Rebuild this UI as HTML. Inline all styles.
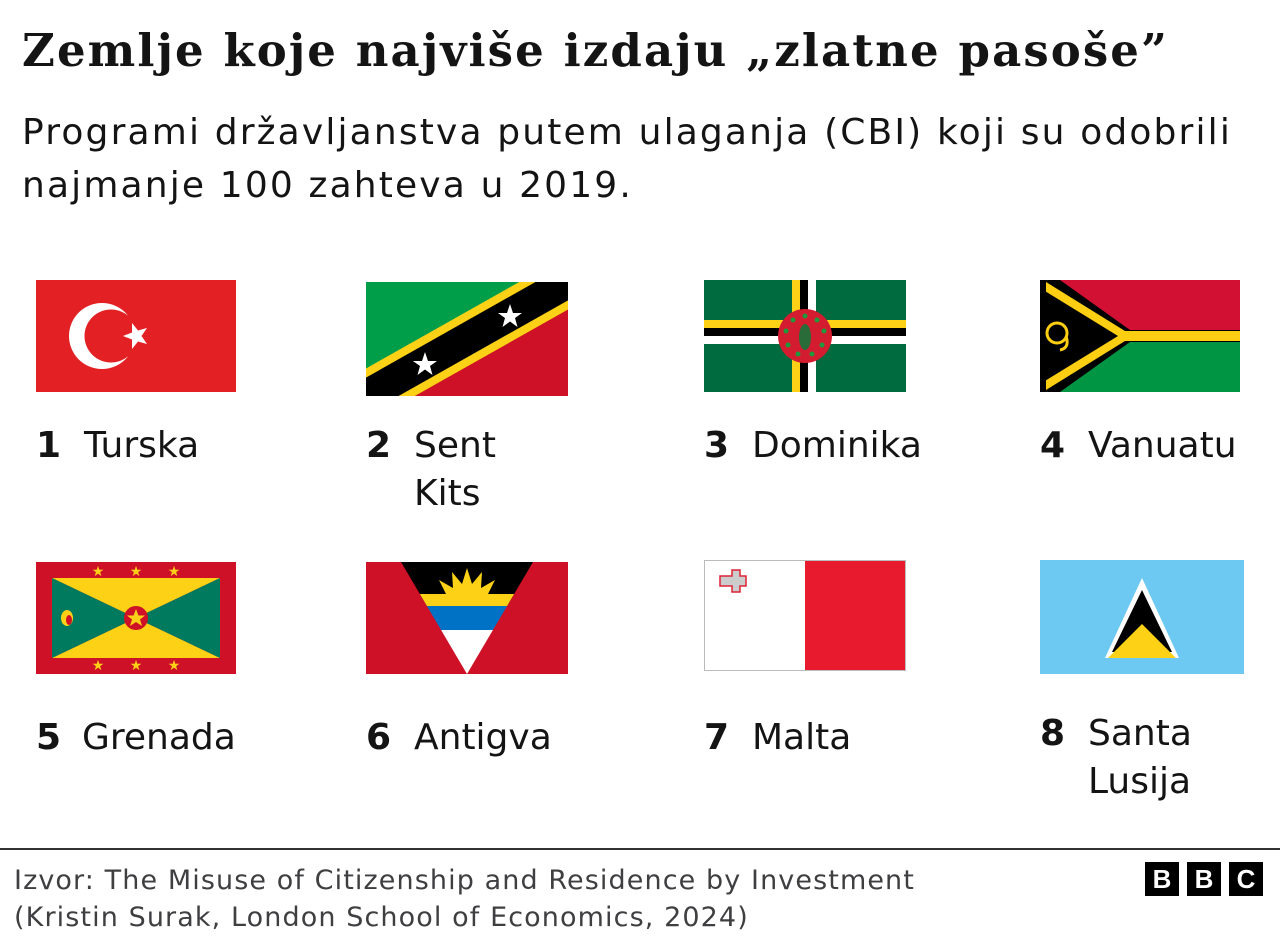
<!DOCTYPE html>
<html><head><meta charset="utf-8"><style>
body{margin:0;width:1280px;height:952px;background:#fff;position:relative;overflow:hidden;font-family:"DejaVu Sans","Liberation Sans",sans-serif;color:#141414}
.a{position:absolute}
h1{position:absolute;left:22px;top:24px;margin:0;font:bold 45px "DejaVu Serif","Liberation Serif",serif;letter-spacing:2.1px;white-space:nowrap}
.sub{left:22px;top:106px;font-size:36px;line-height:53px;letter-spacing:2.15px;white-space:nowrap}
.lab{font-size:36px;line-height:48px;display:flex}
.lab b{width:48px;flex:none}
.foot{left:14px;top:862px;font-size:27px;line-height:37px;color:#3f3f42;letter-spacing:1.1px;white-space:nowrap}
.bbc{top:862px;width:34px;height:34px;background:#000;color:#fff;font:bold 26px "Liberation Sans",sans-serif;text-align:center;line-height:34px}
</style></head><body>
<h1>Zemlje koje najviše izdaju „zlatne pasoše”</h1>
<div class="a sub">Programi državljanstva putem ulaganja (CBI) koji su odobrili<br>najmanje 100 zahteva u 2019.</div>

<svg class="a" style="left:0;top:0" width="1280" height="840">
<g>
<rect x="36" y="280" width="200" height="112" fill="#e32124"/>
<circle cx="102" cy="336" r="33" fill="#fff"/><circle cx="111" cy="336" r="26.5" fill="#e32124"/>
<polygon points="136,323 139.5,332 149,332 141.5,338 144,347 136,341.5 128,347 130.5,338 123,332 132.5,332" fill="#fff" transform="rotate(-90 136 336)"/>
</g>
<g>
<clipPath id="ck"><rect x="366" y="282" width="202" height="114"/></clipPath>
<g clip-path="url(#ck)">
<polygon points="366,282 568,282 366,396" fill="#009e49"/>
<polygon points="568,282 568,396 366,396" fill="#ce1126"/>
<line x1="366" y1="396" x2="568" y2="282" stroke="#fcd116" stroke-width="48"/>
<line x1="366" y1="396" x2="568" y2="282" stroke="#000" stroke-width="32"/>
</g>
<polygon points="510,304 513,313 522,313 515,318 517.5,327 510,321.5 502.5,327 505,318 498,313 507,313" fill="#fff"/>
<polygon points="425,352 428,361 437,361 430,366 432.5,375 425,369.5 417.5,375 420,366 413,361 422,361" fill="#fff"/>
</g>
<g>
<rect x="704" y="280" width="202" height="112" fill="#006b3f"/>
<rect x="792" y="280" width="8" height="112" fill="#fcd116"/><rect x="800" y="280" width="8" height="112" fill="#000"/><rect x="808" y="280" width="8" height="112" fill="#fff"/>
<rect x="704" y="320" width="202" height="8" fill="#fcd116"/><rect x="704" y="328" width="202" height="8" fill="#000"/><rect x="704" y="336" width="202" height="8" fill="#fff"/>
<circle cx="805" cy="336" r="27" fill="#d41c30"/>
<ellipse cx="805" cy="337" rx="6" ry="13" fill="#2a6b3a"/>
<g fill="#1e9a3c"><circle cx="805" cy="316" r="2.5"/><circle cx="817" cy="320" r="2.5"/><circle cx="824" cy="331" r="2.5"/><circle cx="822" cy="345" r="2.5"/><circle cx="812" cy="354" r="2.5"/><circle cx="798" cy="354" r="2.5"/><circle cx="788" cy="345" r="2.5"/><circle cx="786" cy="331" r="2.5"/><circle cx="793" cy="320" r="2.5"/></g>
</g>
<g>
<rect x="1040" y="280" width="200" height="56" fill="#d21034"/><rect x="1040" y="336" width="200" height="56" fill="#009543"/>
<polygon points="1040,280 1130,336 1040,392" fill="#fdce12"/>
<polygon points="1040,280 1060,280 1130,330 1240,330 1240,342 1130,342 1060,392 1040,392" fill="#000"/>
<polygon points="1046,282 1125,331 1240,331 1240,341 1125,341 1046,390" fill="#fdce12"/>
<polygon points="1040,288 1118,336 1040,384" fill="#000"/>
<circle cx="1057" cy="333" r="10" fill="none" stroke="#fdce12" stroke-width="3"/><path d="M1066 336 q4 12 -6 14" fill="none" stroke="#fdce12" stroke-width="3"/>
</g>
<g>
<rect x="36" y="562" width="200" height="112" fill="#ce1126"/>
<polygon points="52,578 220,578 136,618" fill="#fcd116"/><polygon points="52,658 220,658 136,618" fill="#fcd116"/>
<polygon points="52,578 136,618 52,658" fill="#007a5e"/><polygon points="220,578 136,618 220,658" fill="#007a5e"/>
<circle cx="136" cy="618" r="12" fill="#ce1126"/>
<polygon points="136,609 138.5,615.5 145,615.5 140,619.5 142,626 136,622 130,626 132,619.5 127,615.5 133.5,615.5" fill="#fcd116"/>
<g fill="#fcd116" font-size="14" text-anchor="middle"><text x="98" y="576">★</text><text x="136" y="576">★</text><text x="174" y="576">★</text><text x="98" y="670">★</text><text x="136" y="670">★</text><text x="174" y="670">★</text></g>
<ellipse cx="67" cy="618" rx="6" ry="8" fill="#fcd116"/><ellipse cx="69" cy="620" rx="3" ry="5" fill="#ce1126"/>
</g>
<g>
<rect x="366" y="562" width="202" height="112" fill="#ce1126"/>
<clipPath id="ca"><polygon points="401,562 533,562 467,674"/></clipPath>
<g clip-path="url(#ca)">
<rect x="366" y="562" width="202" height="44" fill="#000"/>
<polygon points="467,568 472,584 482,572 481,588 495,580 488,594 502,594 432,594 446,594 439,580 453,588 452,572 462,584" fill="#fcd116"/>
<rect x="366" y="594" width="202" height="12" fill="#fcd116"/>
<rect x="366" y="606" width="202" height="24" fill="#0072c6"/>
<rect x="366" y="630" width="202" height="50" fill="#fff"/>
</g>
</g>
<g>
<rect x="704.5" y="560.5" width="201" height="110" fill="#fff" stroke="#bbb"/>
<rect x="805" y="561" width="100" height="109" fill="#e81b2e"/>
<path d="M722 576 h12 v-6 h8 v6 h6 v10 h-6 v6 h-8 v-6 h-12 z" fill="#ccc" stroke="#d23" stroke-width="1.5" transform="translate(-2 0)"/>
</g>
<g>
<rect x="1040" y="560" width="204" height="114" fill="#6dc9f1"/>
<polygon points="1142,578 1179,658 1105,658" fill="#fff"/>
<polygon points="1142,590 1172,652 1112,652" fill="#000"/>
<polygon points="1142,624 1176,658 1108,658" fill="#fcd116"/>
</g>
</svg>

<div class="a lab" style="left:36px;top:422px"><b>1</b>Turska</div>
<div class="a lab" style="left:366px;top:422px"><b>2</b><span>Sent<br>Kits</span></div>
<div class="a lab" style="left:704px;top:422px"><b>3</b>Dominika</div>
<div class="a lab" style="left:1040px;top:422px"><b>4</b>Vanuatu</div>
<div class="a lab" style="left:36px;top:714px"><b style="width:46px">5</b>Grenada</div>
<div class="a lab" style="left:366px;top:714px"><b>6</b>Antigva</div>
<div class="a lab" style="left:704px;top:714px"><b>7</b>Malta</div>
<div class="a lab" style="left:1040px;top:710px"><b>8</b><span>Santa<br>Lusija</span></div>

<div class="a" style="left:0;top:848px;width:1280px;height:2px;background:#333"></div>
<div class="a foot">Izvor: The Misuse of Citizenship and Residence by Investment<br>(Kristin Surak, London School of Economics, 2024)</div>
<div class="a bbc" style="left:1145px">B</div>
<div class="a bbc" style="left:1187px">B</div>
<div class="a bbc" style="left:1229px">C</div>
</body></html>
